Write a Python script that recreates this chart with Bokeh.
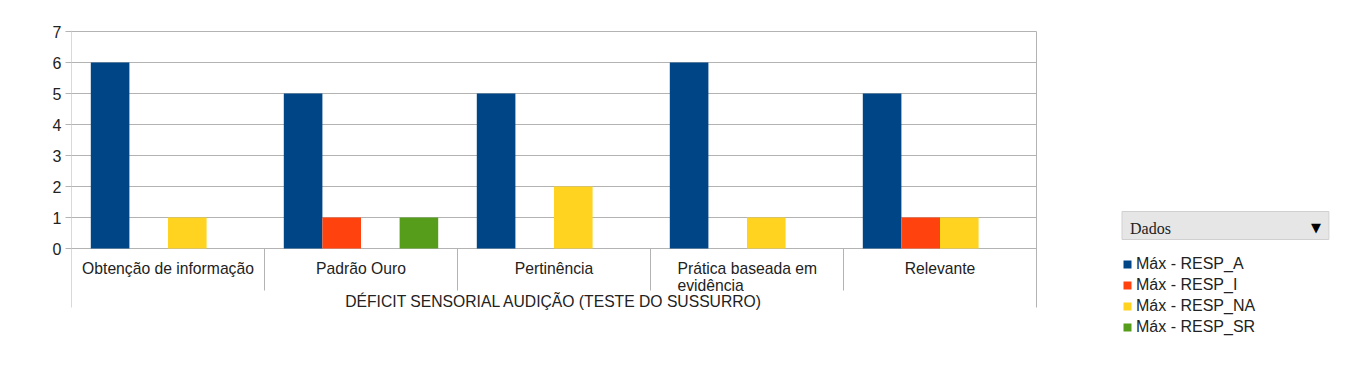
from bokeh.plotting import figure
from bokeh.models import ColumnDataSource, Range1d, FixedTicker, Legend, LegendItem, Label
from bokeh.transform import dodge
from bokeh.core.properties import value
from bokeh.embed import file_html
from bokeh.resources import INLINE

# ---- data ----
categories = ["Obtenção de informação", "Padrão Ouro", "Pertinência",
              "Prática baseada em evidência", "Relevante"]
category_labels = ["Obtenção de informação", "Padrão Ouro", "Pertinência",
                   "Prática baseada em\nevidência", "Relevante"]
resp_a = [6, 5, 5, 6, 5]
resp_i = [0, 1, 0, 0, 1]
resp_na = [1, 0, 2, 1, 1]
resp_sr = [0, 1, 0, 0, 0]
series_names = ["Máx - RESP_A", "Máx - RESP_I", "Máx - RESP_NA", "Máx - RESP_SR"]
series_colors = ["#004586", "#ff420e", "#ffd320", "#579d1c"]
group_label = "DÉFICIT SENSORIAL AUDIÇÃO (TESTE DO SUSSURRO)"
legend_title = "Dados"
y_ticks = [0, 1, 2, 3, 4, 5, 6, 7]

FONT = "Liberation Sans"
TXT = "#222222"
GRID = "#b3b3b3"

n = len(categories)
idx = list(range(n))
source = ColumnDataSource(dict(i=idx, A=resp_a, I=resp_i, NA=resp_na, SR=resp_sr))

PX_X = 193.0   # pixels per category
PX_Y = 31.0    # pixels per unit
LEFT, TOP = 71, 30
Y0 = 248       # pixel row of value 0
x_end = (1352 - LEFT) / PX_X
y_top = (Y0 - TOP) / PX_Y
y_bot = -(376 - Y0) / PX_Y
y_axis_bottom = -(307 - Y0) / PX_Y

p = figure(width=1352, height=376, output_backend="svg", toolbar_location=None,
           x_range=Range1d(0, x_end), y_range=Range1d(y_bot, y_top),
           min_border_left=LEFT, min_border_right=0, min_border_top=TOP, min_border_bottom=0,
           x_axis_location=None, tools="")
p.outline_line_color = None
p.background_fill_color = "white"
p.border_fill_color = "white"

# y axis (line drawn below as segment so it stops at the chart bottom)
p.yaxis.ticker = FixedTicker(ticks=y_ticks)
p.yaxis.axis_line_color = None
p.yaxis.major_tick_line_color = GRID
p.yaxis.major_tick_out = 6
p.yaxis.major_tick_in = 0
p.yaxis.minor_tick_line_color = None
p.yaxis.major_label_standoff = 4
p.yaxis.major_label_text_font = FONT
p.yaxis.major_label_text_font_size = "16px"
p.yaxis.major_label_text_color = TXT
p.xgrid.grid_line_color = None
p.ygrid.grid_line_color = None

# horizontal grid lines spanning only the category area
p.segment(x0=[0] * len(y_ticks), y0=y_ticks, x1=[n] * len(y_ticks), y1=y_ticks,
          line_color=GRID, line_width=1)

# bars
renderers = []
for k, col in enumerate(["A", "I", "NA", "SR"]):
    r = p.vbar(x=dodge("i", 0.2 * (k + 1), range=p.x_range), top=col, bottom=0, width=0.2,
               source=source, fill_color=series_colors[k], line_color=None)
    renderers.append(r)

# category separators and outer vertical lines
p.segment(x0=idx[1:], y0=[0] * (n - 1), x1=idx[1:], y1=[-1.355] * (n - 1),
          line_color=GRID, line_width=1)
p.segment(x0=[0, n], y0=[y_top, max(y_ticks)], x1=[0, n], y1=[y_axis_bottom, y_axis_bottom],
          line_color=GRID, line_width=1)

# category labels
single = [(i + 0.5, lab) for i, lab in zip(idx, category_labels) if "\n" not in lab]
wrapped = [(i + 0.5, lab) for i, lab in zip(idx, category_labels) if "\n" in lab]
p.text(x=[s[0] for s in single], y=[-0.355] * len(single), text=[s[1] for s in single],
       text_align="center", text_baseline="top", text_font=value(FONT),
       text_font_size="15.7px", text_color=TXT)
p.text(x=[s[0] for s in wrapped], y=[-0.355] * len(wrapped), text=[s[1] for s in wrapped],
       text_align="left", text_baseline="top", x_offset=-69.5, text_font=value(FONT),
       text_font_size="15.7px", text_color=TXT, text_line_height=1.0)
p.text(x=[n / 2], y=[-1.71], text=[group_label], text_align="center", text_baseline="middle",
       text_font=value(FONT), text_font_size="15.7px", text_color=TXT)

# legend header box
p.add_layout(Label(x=(1121.5 - LEFT) / PX_X, y=(Y0 - 225) / PX_Y, text=legend_title,
                   text_font="Liberation Serif", text_font_size="16px", text_color="#222222",
                   text_align="left", text_baseline="middle",
                   background_fill_color="#e6e6e6", border_line_color="#d0d0d0",
                   padding=(8, 158, 8, 3)))
p.add_layout(Label(x=(1315.5 - LEFT) / PX_X, y=(Y0 - 227) / PX_Y, text="▼",
                   text_font="DejaVu Sans", text_font_size="13px", text_color="black",
                   text_align="center", text_baseline="middle"))

legend = Legend(items=[LegendItem(label=nm, renderers=[r]) for nm, r in zip(series_names, renderers)],
                location=(1051, 39), orientation="vertical", glyph_width=10, glyph_height=10,
                label_standoff=4, spacing=0, label_height=21, padding=0, margin=0,
                border_line_color=None, background_fill_alpha=0,
                label_text_font=FONT, label_text_font_size="16px", label_text_color=TXT)
p.add_layout(legend)

open("out.html", "w").write(file_html(p, INLINE))
